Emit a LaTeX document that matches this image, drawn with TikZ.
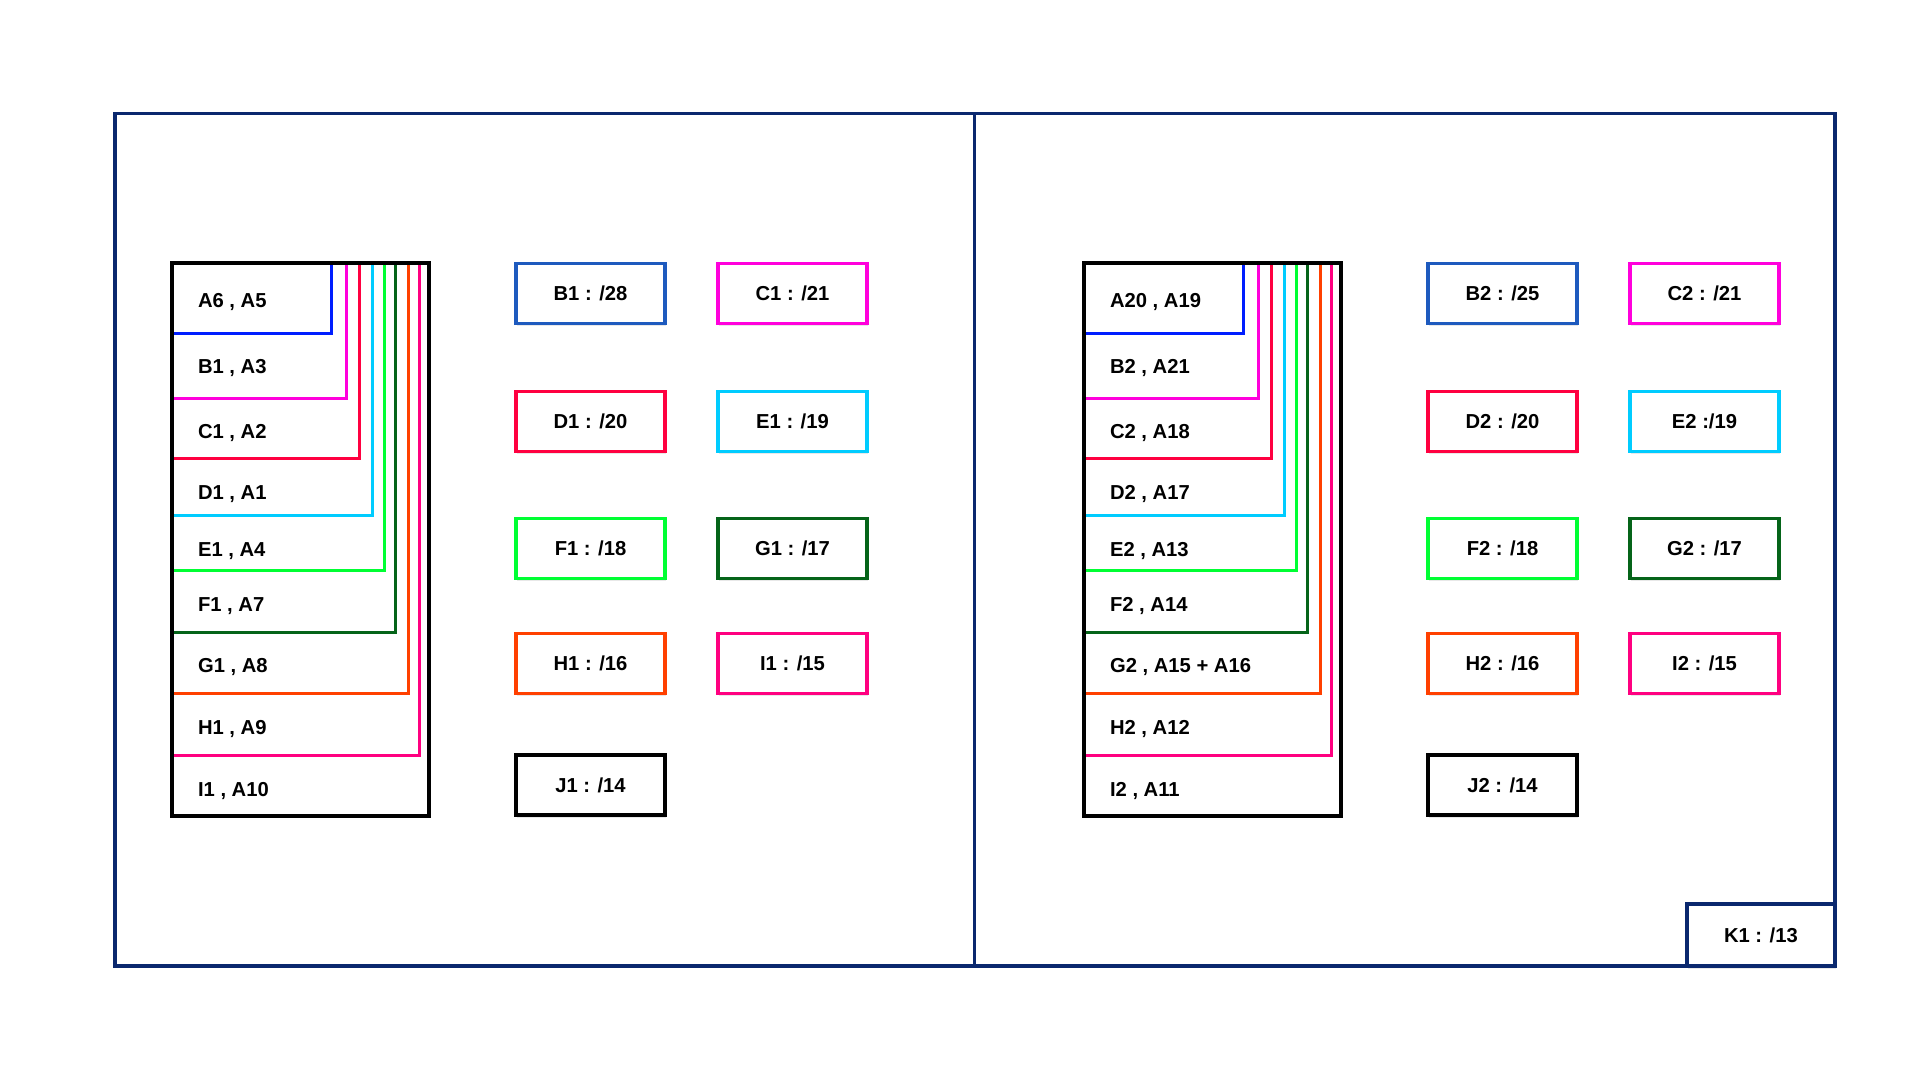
\documentclass[tikz,border=0pt]{standalone}
\usepackage{fontspec}
\setmainfont{Liberation Sans}
\usepackage{tikz}
\usetikzlibrary{shadows}

\definecolor{frameblue}{RGB}{10,40,110}
\definecolor{tagblue}{RGB}{30,90,190}
\definecolor{lineblue}{RGB}{0,30,255}
\definecolor{nmagenta}{RGB}{255,0,220}
\definecolor{nred}{RGB}{255,0,64}
\definecolor{ncyan}{RGB}{0,204,255}
\definecolor{ngreen}{RGB}{0,255,51}
\definecolor{ndarkgreen}{RGB}{5,100,25}
\definecolor{norange}{RGB}{255,64,0}
\definecolor{npink}{RGB}{255,0,128}

\begin{document}
\begin{tikzpicture}[
		x=0.02cm, y=-0.02cm,
		every node/.style = {font=\fontsize{11.5}{13}\selectfont\bfseries},
		tag/.style = {shape=rectangle, draw=#1, line width=2pt, fill=white,
			minimum width=2.98cm, minimum height=1.2cm,
			drop shadow={shadow xshift=0.4pt, shadow yshift=-1.6pt, opacity=0.18}},
		row/.style = {anchor=base west, inner sep=0pt},
		nest/.style = {line width=2pt}]
		\useasboundingbox (0,0) rectangle (1920,1080);

		% outer frame
		\draw[frameblue, line width=1.8pt] (115,113.3) rectangle (1835,966);
		\draw[frameblue, line width=1.8pt] (974.5,113.3) -- (974.5,966);

		% left half
		\draw[nest, lineblue] (331.7,263.3) |- (171.7,333.3);
		\draw[nest, nmagenta] (346.7,263.3) |- (171.7,398.3);
		\draw[nest, nred] (359.3,263.3) |- (171.7,458.7);
		\draw[nest, ncyan] (372.3,263.3) |- (171.7,515.7);
		\draw[nest, ngreen] (384.3,263.3) |- (171.7,570.7);
		\draw[nest, ndarkgreen] (395.7,263.3) |- (171.7,632.3);
		\draw[nest, norange] (408.3,263.3) |- (171.7,693.3);
		\draw[nest, npink] (419.3,263.3) |- (171.7,755.3);
		\draw[line width=2.2pt] (171.7,263.3) rectangle (429.3,816);

		\node[row] (l1) at (197.7,307) {A6 , A5};
		\node[row] (l2) at (197.7,373.7) {B1 , A3};
		\node[row] (l3) at (197.7,438.7) {C1 , A2};
		\node[row] (l4) at (197.7,499.3) {D1 , A1};
		\node[row] (l5) at (197.7,556.3) {E1 , A4};
		\node[row] (l6) at (197.7,611.3) {F1 , A7};
		\node[row] (l7) at (197.7,672.7) {G1 , A8};
		\node[row] (l8) at (197.7,734.3) {H1 , A9};
		\node[row] (l9) at (197.7,796) {I1 , A10};

		\node[tag=tagblue] (b1) at (590.5,293.3) {B1 : /28};
		\node[tag=nmagenta] (c1) at (792.5,293.3) {C1 : /21};
		\node[tag=nred] (d1) at (590.5,421.3) {D1 : /20};
		\node[tag=ncyan] (e1) at (792.5,421.3) {E1 : /19};
		\node[tag=ngreen] (f1) at (590.5,548.5) {F1 : /18};
		\node[tag=ndarkgreen] (g1) at (792.5,548.5) {G1 : /17};
		\node[tag=norange] (h1) at (590.5,663.3) {H1 : /16};
		\node[tag=npink] (i1) at (792.5,663.3) {I1 : /15};
		\node[tag=black] (j1) at (590.5,785) {J1 : /14};

		% right half
		\draw[nest, lineblue] (1243.7,263.3) |- (1083.7,333.3);
		\draw[nest, nmagenta] (1258.7,263.3) |- (1083.7,398.3);
		\draw[nest, nred] (1271.3,263.3) |- (1083.7,458.7);
		\draw[nest, ncyan] (1284.3,263.3) |- (1083.7,515.7);
		\draw[nest, ngreen] (1296.3,263.3) |- (1083.7,570.7);
		\draw[nest, ndarkgreen] (1307.7,263.3) |- (1083.7,632.3);
		\draw[nest, norange] (1320.3,263.3) |- (1083.7,693.3);
		\draw[nest, npink] (1331.3,263.3) |- (1083.7,755.3);
		\draw[line width=2.2pt] (1083.7,263.3) rectangle (1341.3,816);

		\node[row] (r1) at (1109.7,307) {A20 , A19};
		\node[row] (r2) at (1109.7,373.7) {B2 , A21};
		\node[row] (r3) at (1109.7,438.7) {C2 , A18};
		\node[row] (r4) at (1109.7,499.3) {D2 , A17};
		\node[row] (r5) at (1109.7,556.3) {E2 , A13};
		\node[row] (r6) at (1109.7,611.3) {F2 , A14};
		\node[row] (r7) at (1109.7,672.7) {G2 , A15 + A16};
		\node[row] (r8) at (1109.7,734.3) {H2 , A12};
		\node[row] (r9) at (1109.7,796) {I2 , A11};

		\node[tag=tagblue] (b2) at (1502.5,293.3) {B2 : /25};
		\node[tag=nmagenta] (c2) at (1704.5,293.3) {C2 : /21};
		\node[tag=nred] (d2) at (1502.5,421.3) {D2 : /20};
		\node[tag=ncyan] (e2) at (1704.5,421.3) {E2 :/19};
		\node[tag=ngreen] (f2) at (1502.5,548.5) {F2 : /18};
		\node[tag=ndarkgreen] (g2) at (1704.5,548.5) {G2 : /17};
		\node[tag=norange] (h2) at (1502.5,663.3) {H2 : /16};
		\node[tag=npink] (i2) at (1704.5,663.3) {I2 : /15};
		\node[tag=black] (j2) at (1502.5,785) {J2 : /14};

		\node[tag=frameblue, minimum width=2.96cm, minimum height=1.24cm] (k1) at (1760.9,935.2) {K1 : /13};
	\end{tikzpicture}
\end{document}
